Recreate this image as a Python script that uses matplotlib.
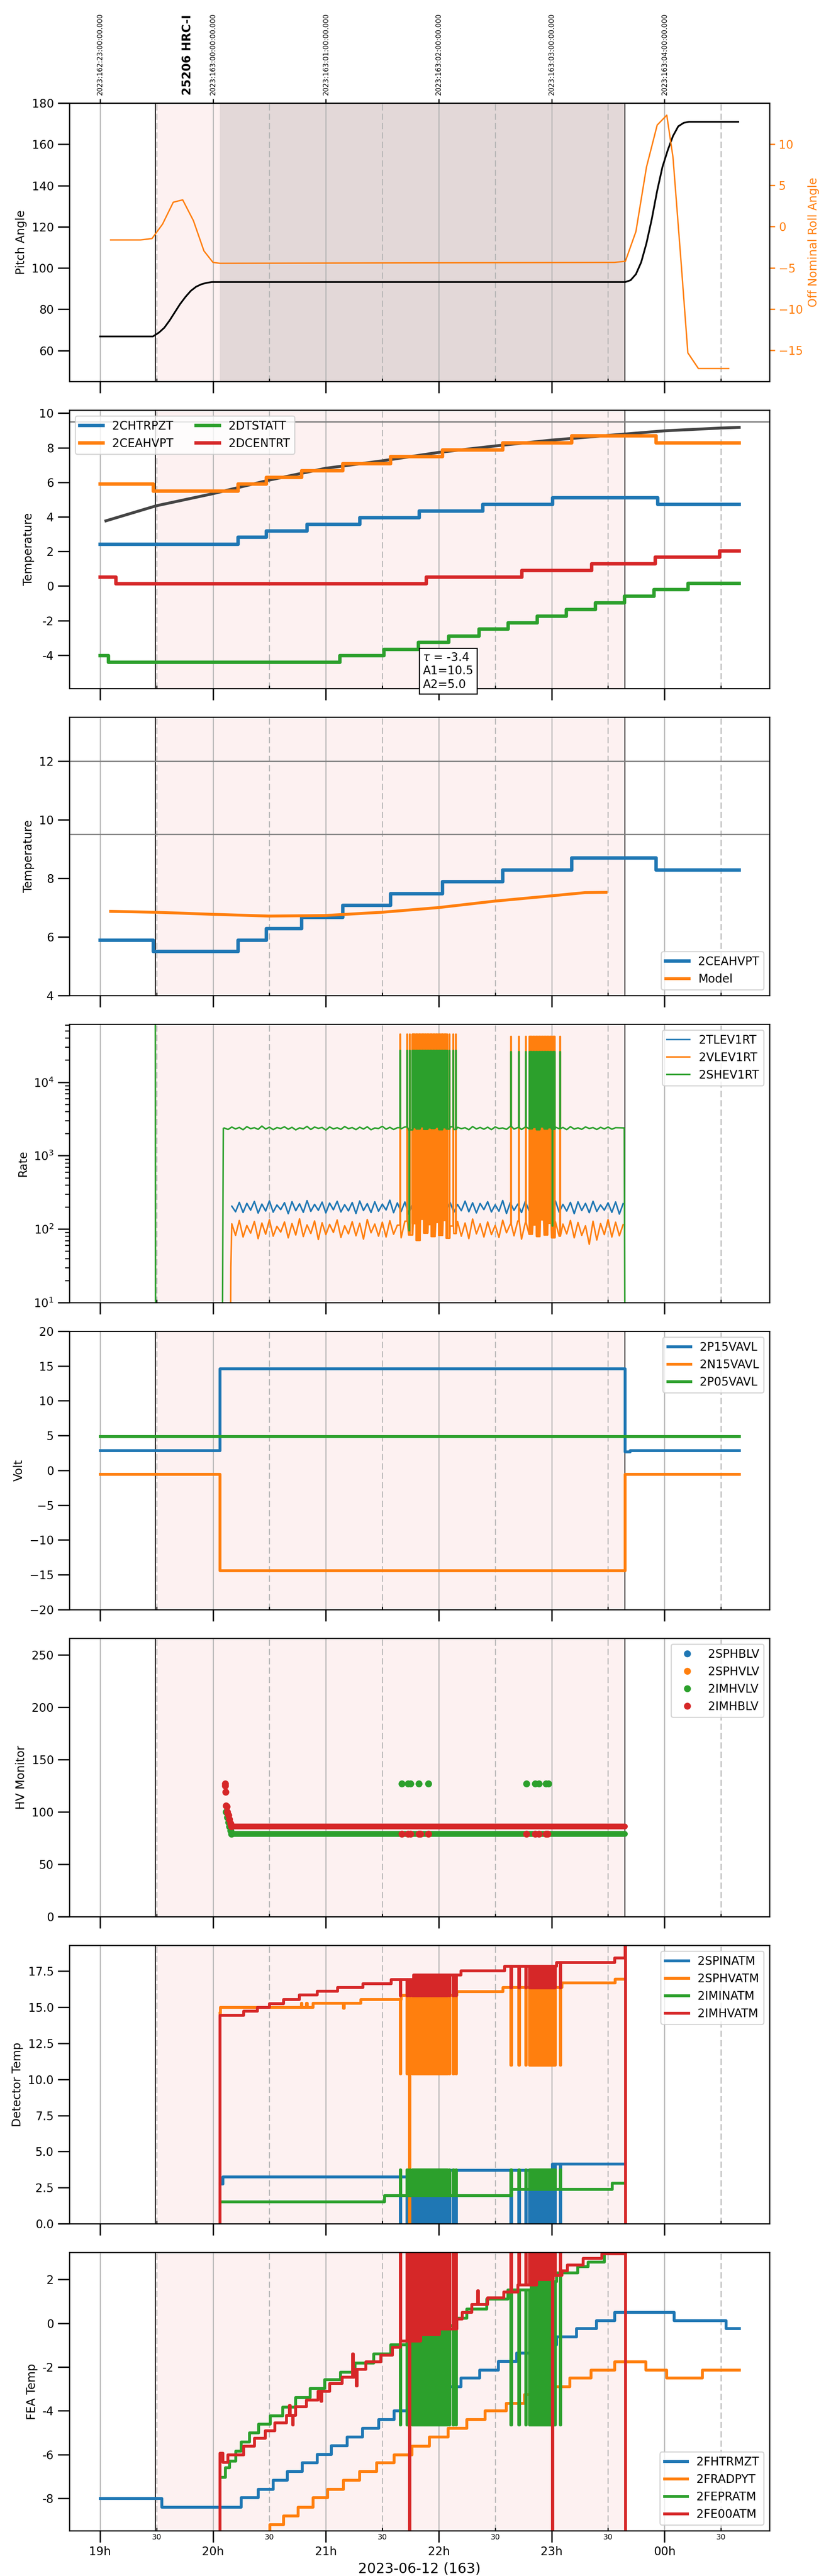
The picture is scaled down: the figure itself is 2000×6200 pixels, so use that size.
import numpy as np
import matplotlib
matplotlib.use("Agg")
import matplotlib.pyplot as plt
from matplotlib.ticker import FuncFormatter

plt.rcParams['font.size'] = 10
plt.rcParams['axes.linewidth'] = 1.0

# all times are minutes after 2023-06-12 19:00 (local)
obs_start, dwell_start, obs_end = 29.3, 63.7, 279.0
t_stop = 339.7

hour_ticks = [19, 20, 21, 22, 23, 24]
hour_labels = ['19h', '20h', '21h', '22h', '23h', '00h']
half_ticks = [19.5, 20.5, 21.5, 22.5, 23.5, 24.5]
half_labels = ['30', '30', '30', '30', '30', '30']
doy_labels = ['2023:162:23:00:00.000', '2023:163:00:00:00.000', '2023:163:01:00:00.000',
              '2023:163:02:00:00.000', '2023:163:03:00:00.000', '2023:163:04:00:00.000']
obsid_label = '25206 HRC-I'
obsid_t = 46.5

# --- pitch / roll
pitch_t = [0, 28.1, 31.3, 34.1, 36.9, 39.7, 42.5, 45.4, 48.2, 51.0, 53.8, 56.6, 59.4,
           279.2, 282.0, 284.8, 287.6, 290.4, 293.2, 296.1, 298.9, 301.7, 304.5, 307.3, 310.2, 313.0, 339.2]
pitch_v = [66.8, 66.8, 68.7, 71.0, 74.5, 78.5, 82.5, 86.0, 88.9, 90.9, 92.1, 92.8, 93.2,
           93.2, 94.1, 97.0, 102.8, 112.0, 123.6, 137.5, 149.0, 157.1, 164.0, 168.7, 170.4, 170.9, 170.9]
roll_t = [5.6, 21.4, 27.6, 33.2, 38.9, 43.9, 49.6, 55.2, 60.0, 63.7, 273.5, 279.2, 284.8,
          290.4, 296.1, 301.2, 304.5, 308.7, 312.4, 318.0, 334.1]
roll_v = [-1.62, -1.62, -1.45, 0.3, 2.95, 3.24, 0.72, -2.95, -4.34, -4.45, -4.34, -4.2, -0.6,
          7.2, 12.3, 13.5, 8.4, -4.0, -15.3, -17.2, -17.2]

# --- temperatures (step change times, values)
ceahvpt_t = [0, 28.4, 73.4, 88.3, 107.2, 129.1, 154.4, 182.0, 214.1, 250.6, 295.6]
ceahvpt_v = [5.89, 5.50, 5.89, 6.28, 6.67, 7.08, 7.48, 7.88, 8.28, 8.69, 8.28]
chtrpzt_t = [0, 73.4, 88.3, 110.0, 138.1, 169.6, 203.4, 240.5, 296.5]
chtrpzt_v = [2.42, 2.81, 3.19, 3.56, 3.95, 4.33, 4.71, 5.10, 4.71]
dcentrt_t = [0, 8.4, 173.3, 224.2, 261.3, 295.1, 329.4]
dcentrt_v = [0.52, 0.12, 0.52, 0.91, 1.28, 1.66, 2.04]
dtstatt_t = [0, 4.5, 127.4, 150.8, 169.1, 185.4, 201.4, 216.9, 232.4, 247.8, 263.3, 278.8, 294.5, 312.5]
dtstatt_v = [-4.02, -4.42, -4.02, -3.66, -3.26, -2.9, -2.5, -2.12, -1.74, -1.36, -0.98, -0.6, -0.22, 0.15]
fit_t = [3.1, 29.8, 59.9, 90.0, 119.8, 149.8, 179.9, 209.7, 239.8, 269.6, 300.0, 329.8, 339.7]
fit_v = [3.77, 4.64, 5.34, 6.13, 6.81, 7.24, 7.73, 8.10, 8.44, 8.71, 8.98, 9.14, 9.18]
fit_text = "$\\tau$ = -3.4\nA1=10.5\nA2=5.0"
model_t = [5.6, 29.8, 59.9, 90.0, 119.8, 149.8, 179.9, 209.7, 239.8, 257.7, 268.9]
model_v = [6.87, 6.84, 6.77, 6.71, 6.73, 6.84, 7.00, 7.22, 7.40, 7.51, 7.52]

# --- shared telemetry glitch onsets (minutes)
burst1 = [159.4, 163.1, 164.5, 165.9, 166.4, 166.8, 167.3, 167.9, 168.3, 168.8, 169.4, 169.8,
          170.3, 170.9, 171.3, 171.8, 172.4, 172.8, 173.3, 173.9, 174.3, 174.8, 175.4, 175.8,
          176.3, 176.9, 177.3, 177.8, 178.4, 178.8, 179.3, 179.9, 180.3, 180.8, 181.4, 181.8,
          182.3, 182.9, 183.3, 183.8, 184.4, 185.6, 187.6, 189.0]
burst2 = [218.3, 222.5, 226.2, 228.1, 228.6, 229.0, 229.5, 230.1, 230.5, 231.0, 231.6, 232.0,
          232.5, 233.1, 233.5, 234.0, 234.6, 235.0, 235.5, 236.1, 236.5, 237.0, 237.6, 238.0,
          238.5, 239.1, 239.5, 240.0, 240.7, 241.1, 241.5, 244.4]

# --- event rates (2 min samples)
tlev_t0 = 70.0
tlev = [205, 172, 231, 168, 224, 181, 238, 165, 219, 176, 242, 170, 213, 184, 229, 162, 236, 178, 221, 169,
        244, 174, 217, 180, 233, 166, 226, 183, 239, 171, 215, 177, 230, 163, 241, 179, 222, 168, 235, 175,
        218, 182, 247, 167, 227, 173, 234, 160, 220, 185, 237, 170, 212, 176, 243, 164, 225, 181, 232, 169,
        216, 178, 240, 172, 228, 166, 223, 184, 236, 171, 214, 175, 245, 163, 229, 180, 219, 168, 238, 177,
        226, 173, 233, 165, 221, 182, 242, 170, 217, 176, 231, 162, 235, 179, 224, 167, 239, 174, 213, 181,
        228, 169, 234, 160, 222]
vlev_t0 = 70.0
vlev = [118, 82, 131, 78, 112, 88, 127, 74, 121, 85, 134, 80, 109, 91, 125, 76, 119, 83, 138, 79,
        114, 87, 129, 72, 122, 84, 116, 90, 133, 77, 111, 86, 126, 81, 120, 73, 135, 89, 117, 80,
        124, 78, 130, 85, 113, 76, 128, 83, 119, 70, 136, 88, 115, 79, 123, 82, 131, 75, 110, 87,
        127, 80, 121, 74, 137, 86, 118, 78, 125, 84, 112, 77, 132, 89, 116, 81, 129, 73, 122, 85,
        114, 79, 134, 83, 120, 76, 126, 80, 117, 86, 131, 76, 123, 82, 111, 62, 128, 71, 119, 84,
        135, 78, 124, 81, 115]
vlev_pre_t = [69.2, 69.5]
vlev_pre_v = [1, 30]
shev_t0 = 66.0
shev = [2380, 2270, 2450, 2310, 2420, 2250, 2480, 2330, 2400, 2280, 2530, 2300, 2440, 2260, 2410, 2340, 2470, 2290, 2430, 2240,
        2390, 2320, 2500, 2270, 2450, 2350, 2420, 2230, 2460, 2310, 2400, 2280, 2490, 2330, 2410, 2260, 2440, 2300, 2470, 2250,
        2380, 2340, 2510, 2290, 2430, 2270, 2400, 2320, 2460, 2240, 2420, 2310, 2480, 2280, 2390, 2350, 2450, 2260, 2410, 2300,
        2470, 2270, 2430, 2330, 2400, 2250, 2490, 2310, 2420, 2290, 2440, 2260, 2460, 2340, 2380, 2280, 2500, 2300, 2410, 2270,
        2450, 2320, 2430, 2250, 2470, 2310, 2400, 2290, 2440, 2330, 2420, 2260, 2480, 2300, 2390, 2280, 2460, 2340, 2410, 2270,
        2430, 2310, 2450, 2290, 2400]
shev_pre_t = [29.3, 29.5, 64.9, 65.5]
shev_pre_v = [1e6, 1, 1, 2350]
shev_post_t = [278.6, 279.0]
shev_post_v = [2380, 1]

# --- voltages
p15_t = [0, 63.7, 279.0, 281.6]
p15_v = [2.88, 14.6, 2.7, 2.88]
n15_t = [0, 63.7, 279.0]
n15_v = [-0.56, -14.42, -0.56]
p05_t = [0]
p05_v = [4.9]

# --- HV monitors
imhvlv_t = [67.0, 67.6, 68.2, 68.7, 69.3, 69.9, 160.3, 163.7, 165.1, 169.3, 174.4, 226.5, 231.3, 233.2, 236.9, 238.3]
imhvlv_v = [100, 95, 90, 86, 82, 79, 127, 127, 127, 127, 127, 127, 127, 127, 127, 127]
imhvlv_band = [69.9, 279.0]
imhvlv_level = [79, 79]
imhblv_t = [66.5, 66.6, 66.8, 67.0, 67.3, 67.6, 68.2, 68.7, 69.3, 69.9,
            160.3, 163.7, 165.1, 169.3, 170.2, 174.4, 226.5, 231.3, 233.2, 236.9, 237.8]
imhblv_v = [127, 125, 119, 106, 105, 100, 97, 93, 89, 86, 79, 79, 79, 79, 79, 79, 79, 79, 79, 79, 79]
imhblv_band = [69.9, 279.0]
imhblv_level = [86, 86]

# --- detector temps
spinatm_t = [63.7, 65.1, 165.5, 240.3]
spinatm_v = [2.76, 3.25, 3.70, 4.15]
sphvatm_t = [63.6, 63.8, 106.8, 107.1, 109.6, 109.9, 113.0, 129.3, 129.6, 138.6, 160.0, 189.6, 214.1, 245.4, 273.6]
sphvatm_v = [14.6, 15.0, 15.3, 15.0, 15.3, 15.0, 15.3, 14.95, 15.3, 15.55, 15.85, 16.1, 16.4, 16.7, 16.97]
iminatm_t = [63.7, 151.0, 218.6, 272.1]
iminatm_v = [1.51, 1.96, 2.38, 2.81]
imhvatm_t = [63.6, 63.7, 76.3, 83.4, 89.9, 97.5, 105.9, 115.2, 126.2, 139.7, 154.7, 166.5,
             191.8, 214.9, 242.5, 273.5, 279.0, 279.2]
imhvatm_v = [-5.0, 14.45, 14.74, 15.0, 15.27, 15.56, 15.88, 16.13, 16.4, 16.65, 16.94, 17.25,
             17.55, 17.85, 18.13, 18.43, 30.0, -30.0]

# --- FEA temps
fhtrmzt_t = [0, 32.7, 74.9, 83.9, 91.8, 99.4, 107.3, 115.2, 122.8, 131.3, 139.4, 147.9, 156.1, 165.1,
             172.1, 183.4, 191.8, 201.7, 211.6, 221.4, 231.8, 242.5, 253.2, 263.7, 273.5, 305.1, 332.7]
fhtrmzt_v = [-8.0, -8.4, -7.97, -7.58, -7.17, -6.77, -6.37, -5.98, -5.59, -5.19, -4.8, -4.4, -4.0, -3.66,
             -3.25, -2.89, -2.5, -2.13, -1.74, -1.36, -0.98, -0.62, -0.24, 0.13, 0.51, 0.13, -0.24]
fradpyt_t = [0, 90.1, 97.5, 105.1, 113.0, 120.9, 129.3, 137.8, 146.8, 156.1, 165.6, 174.9, 184.8, 194.7,
             204.5, 215.8, 225.6, 239.7, 249.6, 260.9, 273.5, 289.9, 301.1, 320.0]
fradpyt_v = [-9.8, -9.2, -8.8, -8.4, -7.97, -7.58, -7.17, -6.77, -6.37, -6.0, -5.6, -5.2, -4.8, -4.4,
             -4.0, -3.66, -3.25, -2.9, -2.5, -2.13, -1.75, -2.13, -2.5, -2.13]
fepratm_t = [65.1, 66.5, 68.7, 72.1, 74.9, 79.2, 84.2, 90.4, 96.9, 103.9, 111.6, 119.2, 127.6, 135.5,
             145.4, 154.4, 163.0, 172.0, 181.0, 189.6, 194.7, 205.4, 216.6, 229.0, 242.5, 253.8, 259.4, 267.9]
fepratm_v = [-7.04, -6.6, -6.3, -5.83, -5.42, -5.01, -4.6, -4.23, -3.82, -3.39, -2.97, -2.58, -2.23, -1.81,
             -1.39, -0.98, -0.6, -0.35, -0.1, 0.24, 0.65, 1.11, 1.53, 1.9, 2.31, 2.6, 2.8, 3.4]
fe00atm_t = [63.6, 63.7, 65.1, 67.9, 76.3, 82.0, 87.6, 92.7, 98.9, 103.9, 109.6, 115.8, 122.0, 128.5,
             134.9, 141.1, 149.0, 155.2, 159.4, 170.0, 180.0, 189.6, 192.4, 197.5, 205.9, 214.4, 222.0,
             232.0, 240.5, 245.4, 248.2, 256.6, 266.5, 279.0, 279.2]
fe00atm_v = [-20, -5.93, -6.35, -6.0, -5.6, -5.25, -4.9, -4.55, -4.2, -3.8, -3.5, -3.1, -2.75, -2.45,
             -2.1, -1.75, -1.45, -1.1, -0.8, -0.5, -0.25, 0.2, 0.5, 0.86, 1.17, 1.43, 1.75,
             2.0, 2.2, 2.41, 2.67, 2.98, 3.19, 20, -20]
fe00atm_spike_t = [100.6, 102.2, 117.4, 134.1, 136.1, 200.5]
fe00atm_spike_v = [-3.75, -4.65, -3.55, -1.4, -2.85, 1.5]


def hrs(m):
    return 19 + np.asarray(m, float) / 60.0


def steps(t, v, stop):
    return np.append(np.asarray(t, float), stop), np.append(np.asarray(v, float), v[-1])


def sampled(t0, vals, dt=2.0):
    return t0 + dt * np.arange(len(vals)), np.asarray(vals, float)


def glitch(t, v, starts, level, dur=0.25):
    t = np.asarray(t, float)
    v = np.asarray(v, float)
    levels = np.broadcast_to(np.asarray(level, float), (len(starts),))
    tt, vv = list(t), list(v)
    for s, lv in zip(starts, levels):
        b = v[max(np.searchsorted(t, s, side='right') - 1, 0)]
        tt += [s, s, s + dur, s + dur]
        vv += [b, lv, lv, b]
    order = np.argsort(tt, kind='stable')
    return np.array(tt)[order], np.array(vv)[order]


hyphen = FuncFormatter(lambda v, p: f"{v:g}")

fig, axes = plt.subplots(8, 1, figsize=(10, 31), dpi=200, sharex=True)
fig.subplots_adjust(left=0.0835, right=0.926, top=0.96, bottom=0.0176, hspace=0.103)

for ax in axes:
    ax.axvspan(hrs(obs_start), hrs(obs_end), color='#fdf1f1', lw=0, zorder=0)
    for h in hour_ticks:
        ax.axvline(h, color='#b4b4b4', lw=0.9, zorder=0.5)
    for h in half_ticks:
        ax.axvline(h, color='#b4b4b4', lw=0.9, ls=(0, (6, 3)), zorder=0.5)
    ax.axvline(hrs(obs_start), color='k', lw=0.8, zorder=0.6)
    ax.axvline(hrs(obs_end), color='k', lw=0.8, zorder=0.6)
    ax.tick_params(axis='x', which='major', length=10, width=1.2)
    ax.tick_params(axis='x', which='minor', direction='in', length=2.5, width=1.0, pad=2.5)
    ax.tick_params(axis='y', which='major', length=10, width=1.2)

# 1: pitch and roll
ax = axes[0]
ax.axvspan(hrs(dwell_start), hrs(obs_end), color='#e3d8d8', lw=0, zorder=0.2)
ax.plot(hrs(pitch_t), pitch_v, color='k', lw=1.5)
ax.set_ylim(45, 180)
ax.set_yticks(range(60, 181, 20))
ax.set_ylabel('Pitch Angle')
axr = ax.twinx()
axr.plot(hrs(roll_t), roll_v, color='C1', lw=1.2)
axr.set_ylim(-18.76, 14.97)
axr.set_ylabel('Off Nominal Roll Angle', color='C1')
axr.tick_params(axis='y', colors='C1', length=4.5, width=1.2)
sec = ax.secondary_xaxis('top')
sec.set_xticks(hour_ticks, labels=doy_labels, rotation=90, fontsize=6)
sec.tick_params(length=3.5, width=1.0)
ax.annotate(obsid_label, xy=(hrs(obsid_t), 1.0), xycoords=('data', 'axes fraction'),
            xytext=(0, 7), textcoords='offset points', rotation=90,
            ha='center', va='bottom', fontsize=10, fontweight='bold')

# 2: temperatures with fit
ax = axes[1]
ax.axhline(9.5, color='gray', lw=1.2)
ax.plot(hrs(fit_t), fit_v, color='#444444', lw=2.5, zorder=2)
for (t, v, name, c) in [(chtrpzt_t, chtrpzt_v, '2CHTRPZT', 'C0'), (ceahvpt_t, ceahvpt_v, '2CEAHVPT', 'C1'),
                        (dtstatt_t, dtstatt_v, '2DTSTATT', 'C2'), (dcentrt_t, dcentrt_v, '2DCENTRT', 'C3')]:
    x, y = steps(t, v, t_stop)
    ax.plot(hrs(x), y, drawstyle='steps-post', color=c, lw=3, label=name)
ax.set_ylim(-5.93, 10.18)
ax.set_yticks(range(-4, 11, 2))
ax.yaxis.set_major_formatter(hyphen)
ax.set_ylabel('Temperature')
ax.legend(loc='upper left', ncol=2)
ax.text(hrs(171.5), -3.81, fit_text, ha='left', va='top', zorder=6, clip_on=False,
        bbox=dict(boxstyle='square,pad=0.3', fc='white', ec='black'))

# 3: 2CEAHVPT vs model
ax = axes[2]
ax.axhline(12, color='gray', lw=1.2)
ax.axhline(9.5, color='gray', lw=1.2)
x, y = steps(ceahvpt_t, ceahvpt_v, t_stop)
ax.plot(hrs(x), y, drawstyle='steps-post', color='C0', lw=3, label='2CEAHVPT')
ax.plot(hrs(model_t), model_v, color='C1', lw=2.5, label='Model')
ax.set_ylim(4, 13.5)
ax.set_yticks(range(4, 13, 2))
ax.yaxis.set_major_formatter(hyphen)
ax.set_ylabel('Temperature')
ax.legend(loc='lower right')

# 4: rates
ax = axes[3]
x, y = sampled(tlev_t0, tlev)
ax.plot(hrs(x), y, color='C0', lw=1.3, label='2TLEV1RT')
x, y = sampled(vlev_t0, vlev)
x, y = np.concatenate([vlev_pre_t, x]), np.concatenate([vlev_pre_v, y])
x, y = glitch(x, y, burst1, 45000)
x, y = glitch(x, y, burst2, 42000)
ax.plot(hrs(x), y, color='C1', lw=1.3, label='2VLEV1RT')
x, y = sampled(shev_t0, shev)
x = np.concatenate([shev_pre_t, x, shev_post_t])
y = np.concatenate([shev_pre_v, y, shev_post_v])
x, y = glitch(x, y, burst1, 27000)
x, y = glitch(x, y, burst2, 26000)
x, y = glitch(x, y, [164.2, 240.3], [95, 110])
ax.plot(hrs(x), y, color='C2', lw=1.3, label='2SHEV1RT')
ax.set_yscale('log')
ax.set_ylim(10, 6.17e4)
ax.tick_params(axis='y', which='minor', length=4, width=0.9)
ax.set_ylabel('Rate')
ax.legend(loc='upper right')

# 5: voltages
ax = axes[4]
for (t, v, name, c) in [(p15_t, p15_v, '2P15VAVL', 'C0'), (n15_t, n15_v, '2N15VAVL', 'C1'),
                        (p05_t, p05_v, '2P05VAVL', 'C2')]:
    x, y = steps(t, v, t_stop)
    ax.plot(hrs(x), y, drawstyle='steps-post', color=c, lw=2.5, label=name)
ax.set_ylim(-20, 20)
ax.set_yticks(range(-20, 21, 5))
ax.set_ylabel('Volt')
ax.legend(loc='upper right')

# 6: HV monitors
ax = axes[5]
ax.plot([], [], 'o', ms=5, color='C0', label='2SPHBLV')
ax.plot([], [], 'o', ms=5, color='C1', label='2SPHVLV')
ax.plot(hrs(imhvlv_band), imhvlv_level, color='C2', lw=5, solid_capstyle='round')
ax.plot(hrs(imhvlv_t), imhvlv_v, 'o', ms=5, color='C2', label='2IMHVLV')
ax.plot(hrs(imhblv_band), imhblv_level, color='C3', lw=5, solid_capstyle='round')
ax.plot(hrs(imhblv_t), imhblv_v, 'o', ms=5, color='C3', label='2IMHBLV')
ax.set_ylim(0, 266)
ax.set_yticks(range(0, 251, 50))
ax.set_ylabel('HV Monitor')
ax.legend(loc='upper right')

# 7: detector temps
ax = axes[6]
x, y = steps(spinatm_t, spinatm_v, 278.5)
x, y = glitch(x, y, burst1, -1.0)
x, y = glitch(x, y, burst2, -1.0)
ax.plot(hrs(x), y, drawstyle='steps-post', color='C0', lw=2.5, label='2SPINATM')
x, y = steps(sphvatm_t, sphvatm_v, 278.5)
x, y = glitch(x, y, burst1, 10.4)
x, y = glitch(x, y, burst2, 11.0)
x, y = glitch(x, y, [164.3], -1.0)
ax.plot(hrs(x), y, drawstyle='steps-post', color='C1', lw=2.5, label='2SPHVATM')
x, y = steps(iminatm_t, iminatm_v, 278.5)
x, y = glitch(x, y, burst1, 3.75)
x, y = glitch(x, y, burst2, 3.75)
ax.plot(hrs(x), y, drawstyle='steps-post', color='C2', lw=2.5, label='2IMINATM')
x, y = steps(imhvatm_t, imhvatm_v, 279.2)
x, y = glitch(x, y, burst1, 15.8)
x, y = glitch(x, y, burst2, 16.35)
ax.plot(hrs(x), y, drawstyle='steps-post', color='C3', lw=2.5, label='2IMHVATM')
ax.set_ylim(0, 19.3)
ax.set_yticks(np.arange(0, 17.6, 2.5))
ax.set_ylabel('Detector Temp')
ax.legend(loc='upper right')

# 8: FEA temps
ax = axes[7]
x, y = steps(fhtrmzt_t, fhtrmzt_v, t_stop)
ax.plot(hrs(x), y, drawstyle='steps-post', color='C0', lw=2.5, label='2FHTRMZT')
x, y = steps(fradpyt_t, fradpyt_v, t_stop)
ax.plot(hrs(x), y, drawstyle='steps-post', color='C1', lw=2.5, label='2FRADPYT')
x, y = steps(fepratm_t, fepratm_v, 278.5)
x, y = glitch(x, y, burst1, -4.65)
x, y = glitch(x, y, burst2, -4.65)
ax.plot(hrs(x), y, drawstyle='steps-post', color='C2', lw=2.5, label='2FEPRATM')
x, y = steps(fe00atm_t, fe00atm_v, 279.2)
x, y = glitch(x, y, fe00atm_spike_t, fe00atm_spike_v, dur=0.4)
x, y = glitch(x, y, burst1, 6.0)
x, y = glitch(x, y, burst2, 6.0)
x, y = glitch(x, y, [164.3, 240.3], -20)
ax.plot(hrs(x), y, drawstyle='steps-post', color='C3', lw=2.5, label='2FE00ATM')
ax.set_ylim(-9.48, 3.24)
ax.set_yticks(range(-8, 3, 2))
ax.yaxis.set_major_formatter(hyphen)
ax.set_ylabel('FEA Temp')
ax.legend(loc='lower right')

ax.set_xlim(18.728, 24.93)
ax.set_xticks(hour_ticks, labels=hour_labels)
ax.set_xticks(half_ticks, labels=half_labels, minor=True, fontsize=6.5)
ax.set_xlabel('2023-06-12 (163)', fontsize=12)

fig.savefig('out.png', dpi=200)
